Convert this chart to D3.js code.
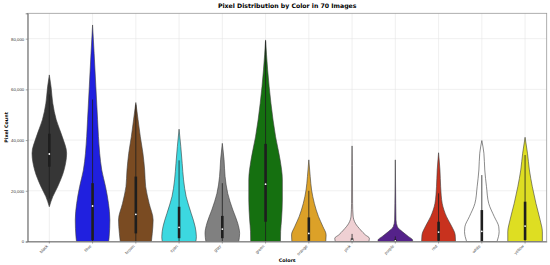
<!DOCTYPE html>
<html>
<head>
<meta charset="utf-8">
<script src="https://cdn.jsdelivr.net/npm/d3@7"></script>
<style>
  body { margin: 0; background: #fff; }
  svg { display: block; font-family: "DejaVu Sans", sans-serif; }
</style>
</head>
<body>
<div id="chart"></div>
<script>
// categories and fills
categories = ['black', 'blue', 'brown', 'cyan', 'gray', 'green', 'orange', 'pink', 'purple', 'red', 'white', 'yellow'];
fills = ['#363636', '#2020df', '#7a4b22', '#3cd8e0', '#808080', '#157010', '#dca128', '#efd0d3', '#55228a', '#c8321e', '#ffffff', '#dede22'];

// density outline per violin: [pixel count, relative width]
shapes = [
  [[13700,0],[17700,0.2],[21600,0.48],[28200,0.85],[34800,1],[41300,0.75],[48000,0.4],[54500,0.2],[61000,0.1],[65700,0]],
  [[0,0.93],[1900,0.96],[8500,1],[15000,0.92],[21600,0.75],[28200,0.53],[34800,0.41],[48000,0.29],[61000,0.19],[74200,0.09],[85400,0]],
  [[0,0.9],[3200,0.95],[8500,1],[15000,0.77],[21600,0.57],[28200,0.51],[34800,0.41],[41300,0.26],[48000,0.13],[54800,0]],
  [[0,0.97],[1900,1],[5800,0.93],[11100,0.7],[17700,0.41],[24300,0.26],[30800,0.18],[37400,0.1],[44300,0]],
  [[0,0.95],[3200,1],[7200,0.89],[12400,0.61],[19000,0.31],[25600,0.16],[32200,0.1],[38700,0]],
  [[0,0.86],[4000,0.87],[8500,0.92],[16400,0.97],[24300,0.97],[32200,0.84],[41300,0.58],[54500,0.31],[67700,0.12],[79500,0]],
  [[0,0.98],[2600,1],[5800,0.82],[9800,0.56],[15000,0.32],[20300,0.16],[25600,0.08],[32200,0]],
  [[0,0.97],[1300,1],[2600,0.77],[4500,0.5],[7200,0.19],[10000,0.06],[15000,0.03],[30000,0.02],[37700,0]],
  [[0,1],[600,1],[1900,0.77],[3900,0.4],[5800,0.12],[8500,0.04],[15000,0.025],[32200,0]],
  [[0,0.98],[2600,0.96],[5800,0.77],[9800,0.46],[15000,0.21],[21600,0.12],[28200,0.08],[35000,0]],
  [[0,0.88],[1900,0.96],[3900,1],[5800,0.98],[9800,0.72],[15000,0.4],[21600,0.27],[28200,0.17],[34800,0.12],[39800,0]],
  [[0,1],[3800,1],[8500,0.87],[15000,0.63],[21600,0.42],[28200,0.25],[34800,0.14],[41100,0]]
];

// inner box stats
q1s      = [29500, 500, 3200, 1300, 1300, 7800, 300, 0, 0, 300, 0, 600];
medians  = [34500, 14000, 10700, 5600, 4900, 22600, 3200, 400, 200, 3700, 4000, 6100];
q3s      = [42500, 23000, 25600, 13700, 10100, 38500, 9500, 1200, 800, 7800, 12400, 15700];
whiskLo  = [17000, 0, 0, 0, 0, 0, 0, 0, 0, 0, 0, 0];
whiskHi  = [58000, 56000, 54000, 32000, 23000, 79000, 20000, 3000, 2000, 19000, 26200, 34100];

yTicks = [0, 20000, 40000, 60000, 80000];

width = 550;
height = 265;
left = 27.7;
right = 546.7;
top_ = 13.3;
bottom = 241.5;

svg = d3.select('#chart')
  .append('svg')
  .attr('width', width)
  .attr('height', height);

x = d3.scaleBand().domain(categories).range([left, right]).padding(0);
y = d3.scaleLinear().domain([0, 90000]).range([bottom, top_]);
w = d3.scaleLinear().domain([0, 1]).range([0, x.bandwidth() * 0.4]);

// grid
svg.append('g')
  .selectAll('line')
  .data(yTicks)
  .join('line')
  .attr('x1', left).attr('x2', right)
  .attr('y1', d => y(d)).attr('y2', d => y(d))
  .attr('stroke', '#e6e6e6')
  .attr('stroke-width', 0.6);

svg.append('g')
  .selectAll('line')
  .data(categories)
  .join('line')
  .attr('x1', d => x(d) + x.bandwidth() / 2).attr('x2', d => x(d) + x.bandwidth() / 2)
  .attr('y1', top_).attr('y2', bottom)
  .attr('stroke', '#e6e6e6')
  .attr('stroke-width', 0.6);

// violins
categories.forEach(function (c, i) {
  cx = x(c) + x.bandwidth() / 2;
  area = d3.area()
    .curve(d3.curveMonotoneY)
    .y(d => y(d[0]))
    .x0(d => cx - w(d[1]))
    .x1(d => cx + w(d[1]));

  svg.append('path')
    .datum(shapes[i])
    .attr('d', area)
    .attr('fill', fills[i])
    .attr('stroke', '#3c3c3c')
    .attr('stroke-width', 0.6);

  svg.append('line')
    .attr('x1', cx).attr('x2', cx)
    .attr('y1', y(whiskLo[i])).attr('y2', y(whiskHi[i]))
    .attr('stroke', '#1e1e1e')
    .attr('stroke-width', 0.8);

  svg.append('line')
    .attr('x1', cx).attr('x2', cx)
    .attr('y1', y(q1s[i])).attr('y2', y(q3s[i]))
    .attr('stroke', '#1e1e1e')
    .attr('stroke-width', 2.6);

  svg.append('circle')
    .attr('cx', cx)
    .attr('cy', y(medians[i]))
    .attr('r', 0.9)
    .attr('fill', '#ffffff');
});

// frame
svg.append('rect')
  .attr('x', left).attr('y', top_)
  .attr('width', right - left).attr('height', bottom - top_)
  .attr('fill', 'none')
  .attr('stroke', '#9a9a9a')
  .attr('stroke-width', 0.8);

// axes
yAxis = svg.append('g')
  .attr('transform', 'translate(' + left + ',0)')
  .call(d3.axisLeft(y).tickValues(yTicks).tickFormat(d3.format(',')).tickSize(2).tickPadding(1.5));
yAxis.select('.domain').attr('stroke', '#666').attr('stroke-width', 0.8);
yAxis.selectAll('.tick line').attr('stroke', '#666').attr('stroke-width', 0.6);
yAxis.selectAll('text').attr('font-size', 4.3).attr('fill', '#333');

xAxis = svg.append('g')
  .attr('transform', 'translate(0,' + bottom + ')')
  .call(d3.axisBottom(x).tickSize(2).tickSizeOuter(0));
xAxis.select('.domain').attr('stroke', '#666').attr('stroke-width', 0.8);
xAxis.selectAll('.tick line').attr('stroke', '#666').attr('stroke-width', 0.6);
xAxis.selectAll('text')
  .attr('font-size', 4.2)
  .attr('fill', '#444')
  .attr('text-anchor', 'end')
  .attr('dy', 0)
  .attr('y', 0)
  .attr('transform', 'translate(-1,5) rotate(-45)');

// labels
svg.append('text')
  .attr('x', (left + right) / 2)
  .attr('y', 8.3)
  .attr('text-anchor', 'middle')
  .attr('font-size', 6.2)
  .attr('font-weight', 'bold')
  .text('Pixel Distribution by Color in 70 Images');

svg.append('text')
  .attr('x', (left + right) / 2)
  .attr('y', 262)
  .attr('text-anchor', 'middle')
  .attr('font-size', 4.8)
  .attr('font-weight', 'bold')
  .text('Colors');

svg.append('text')
  .attr('transform', 'translate(7.5,' + ((top_ + bottom) / 2) + ') rotate(-90)')
  .attr('text-anchor', 'middle')
  .attr('font-size', 4.8)
  .attr('font-weight', 'bold')
  .text('Pixel Count');
</script>
</body>
</html>
